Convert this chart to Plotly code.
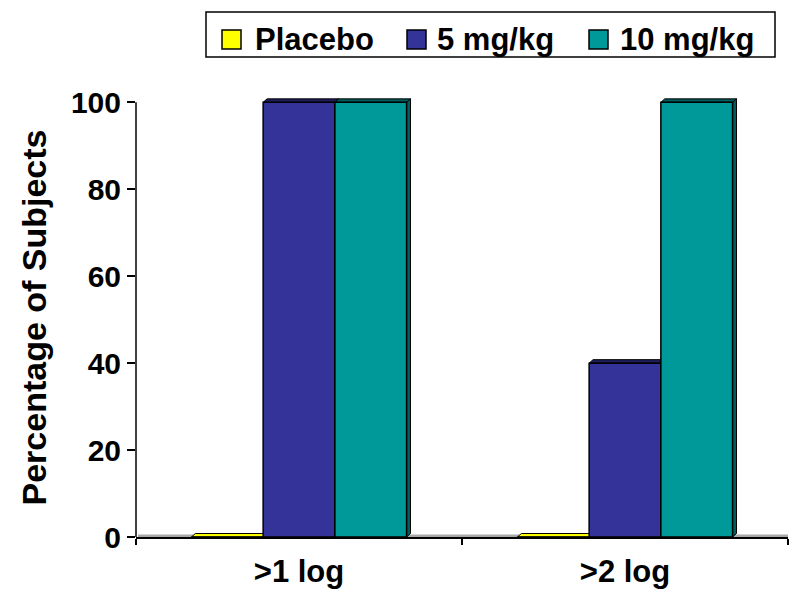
import plotly.graph_objects as go

# Response categories and percentage of subjects per dose group
categories = [">1 log", ">2 log"]
series_names = ["Placebo", "5 mg/kg", "10 mg/kg"]
placebo = [0, 0]
mg5 = [100, 40]
mg10 = [100, 100]
y_ticks = [0, 20, 40, 60, 80, 100]

series_values = [placebo, mg5, mg10]
face_colors = ["#FFFF00", "#333399", "#009999"]
shade_colors = ["#B3B300", "#1E1E5C", "#005E5E"]

FONT = "Liberation Sans, Arial, sans-serif"
BARGAP = 0.34
Y_MAX = 101
# depth of the pseudo-3D faces (category units / data units)
DX = 0.012
DY = 0.8

# plot-area geometry in pixels (used to place the legend box in paper units)
W, H = 793, 589
M_L, M_R, M_T, M_B = 136, 5, 98, 52
PW, PH = W - M_L - M_R, H - M_T - M_B


def px_x(x):
    return (x - M_L) / PW


def px_y(y):
    return (H - M_B - y) / PH


fig = go.Figure()
for name, vals, col in zip(series_names, series_values, face_colors):
    fig.add_trace(go.Bar(
        x=categories, y=vals, name=name, showlegend=False,
        marker=dict(color=col, line=dict(color="black", width=1.5)),
    ))

# bar geometry in category units, used for the 3D top/side faces
bar_w = (1 - BARGAP) / len(series_values)
shapes = []

# grey floor edge along the baseline
shapes.append(dict(type="rect", xref="paper", yref="y", x0=0.003, x1=1.0, y0=0, y1=0.55,
                   fillcolor="#A8A8A8", line=dict(width=0), layer="below"))

for i, (vals, shade) in enumerate(zip(series_values, shade_colors)):
    for c, v in enumerate(vals):
        x0 = c - (1 - BARGAP) / 2 + i * bar_w
        x1 = x0 + bar_w
        top = (f"M {x0},{v} L {x1},{v} L {x1 + DX},{v + DY} "
               f"L {x0 + DX},{v + DY} Z")
        fill_top = face_colors[i] if v == 0 else shade
        shapes.append(dict(type="path", xref="x", yref="y", path=top,
                           fillcolor=fill_top, line=dict(color="black", width=1),
                           layer="below"))
        side = (f"M {x1},0 L {x1},{v} L {x1 + DX},{v + DY} "
                f"L {x1 + DX},{DY} Z")
        shapes.append(dict(type="path", xref="x", yref="y", path=side,
                           fillcolor=shade, line=dict(color="black", width=1),
                           layer="below"))

# value axis line, drawn only up to 100
shapes.append(dict(type="line", xref="paper", yref="y", x0=0, x1=0, y0=0, y1=100,
                   line=dict(color="black", width=1.5)))

# legend: framed box with a colour swatch and label per series
annotations = []
shapes.append(dict(type="rect", xref="paper", yref="paper",
                   x0=px_x(206), x1=px_x(775), y0=px_y(57), y1=px_y(12),
                   fillcolor="white", line=dict(color="black", width=1.5)))
swatch_left = [222, 407, 589]
text_left = [253, 435, 618]
for name, col, sx, tx in zip(series_names, face_colors, swatch_left, text_left):
    shapes.append(dict(type="rect", xref="paper", yref="paper",
                       x0=px_x(sx), x1=px_x(sx + 19), y0=px_y(49), y1=px_y(30),
                       fillcolor=col, line=dict(color="black", width=1.5)))
    annotations.append(dict(xref="paper", yref="paper", x=px_x(tx), y=px_y(39),
                            xanchor="left", yanchor="middle", showarrow=False,
                            text=name,
                            font=dict(family=FONT, size=31, color="black", weight="bold")))

fig.update_layout(
    width=W, height=H,
    margin=dict(l=M_L, r=M_R, t=M_T, b=M_B),
    paper_bgcolor="white", plot_bgcolor="white",
    barmode="group", bargap=BARGAP, bargroupgap=0,
    font=dict(family=FONT, color="black"),
    shapes=shapes, annotations=annotations,
    showlegend=False,
    xaxis=dict(
        type="category", range=[-0.5, 1.5], automargin=False,
        showline=True, linecolor="black", linewidth=1.5,
        ticks="outside", tickson="boundaries", ticklen=6,
        tickcolor="black", tickwidth=1.5,
        ticklabelstandoff=6,
        tickfont=dict(family=FONT, size=31, color="black", weight="bold"),
        showgrid=False, zeroline=False,
    ),
    yaxis=dict(
        range=[0, Y_MAX], tickvals=y_ticks, automargin=False,
        showline=False, ticks="outside", ticklen=8,
        tickcolor="black", tickwidth=1.5,
        tickfont=dict(family=FONT, size=30, color="black", weight="bold"),
        showgrid=False, zeroline=False,
        title=dict(text="Percentage of Subjects", standoff=14,
                   font=dict(family=FONT, size=34, color="black", weight="bold")),
    ),
)

fig.write_html("out.html")
